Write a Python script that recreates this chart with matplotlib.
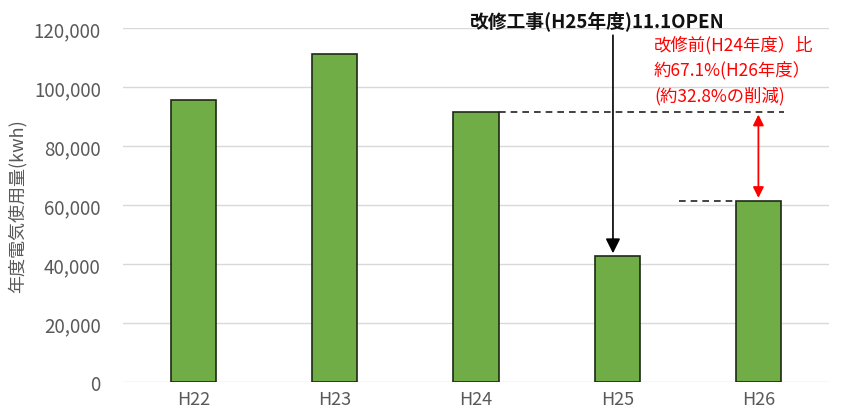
import matplotlib.pyplot as plt

plt.rcParams['font.family'] = ['Noto Sans CJK JP', 'DejaVu Sans']

years = ['H22', 'H23', 'H24', 'H25', 'H26']
usage = [95500, 111200, 91600, 42700, 61460]

fig = plt.figure(figsize=(8.41, 4.14), dpi=100)
ax = fig.add_axes([123 / 841, 1 - 383 / 414, 706 / 841, 354 / 414])

x = range(len(years))
ax.bar(x, usage, width=0.32, color='#70ad47', edgecolor='#1e2a14', linewidth=1.2, zorder=3)

ax.set_xlim(-0.5, 4.5)
ax.set_ylim(0, 120000)
ax.set_yticks(range(0, 120001, 20000))
ax.set_yticklabels([f'{v:,}' for v in range(0, 120001, 20000)])
ax.set_xticks(list(x))
ax.set_xticklabels(years)
ax.grid(axis='y', color='#d9d9d9', linewidth=1, zorder=0)
for s in ax.spines.values():
    s.set_visible(False)
ax.tick_params(length=0, colors='#595959', labelsize=13.5)
ax.tick_params(axis='x', pad=6, labelsize=13)
ax.tick_params(axis='y', pad=16)
ax.set_ylabel('年度電気使用量(kwh)', color='#595959', fontsize=13, labelpad=5)

# renovation marker for H25
ax.annotate('', xy=(2.97, usage[3]), xytext=(2.97, 118500),
            arrowprops=dict(arrowstyle='-|>', color='black', lw=1.2, mutation_scale=22),
            zorder=5, annotation_clip=False)
ax.text(2.86, 122400, '改修工事(H25年度)11.1OPEN', ha='center', va='center',
        fontsize=13.5, fontweight='bold', color='#111111', clip_on=False)

# before / after reference lines
ax.plot([2.16, 4.18], [usage[2], usage[2]], ls=(0, (4, 3)), color='#222222', lw=1.2, zorder=4)
ax.plot([3.44, 3.85], [usage[4], usage[4]], ls=(0, (4, 3)), color='#222222', lw=1.2, zorder=4)
ax.annotate('', xy=(4.0, usage[4]), xytext=(4.0, usage[2]),
            arrowprops=dict(arrowstyle='<|-|>', color='red', lw=1.3, mutation_scale=16),
            zorder=5)

ratio = usage[4] / usage[2] * 100
for y, s in [(114600, '改修前(H24年度）比'),
             (106100, f'約{ratio:.1f}%(H26年度）'),
             (97300, f'(約{100 - ratio - 0.1:.1f}%の削減)')]:
    ax.text(3.26, y, s, ha='left', va='center', fontsize=12.5, color='red', zorder=5)

fig.savefig('out.png', dpi=100)
